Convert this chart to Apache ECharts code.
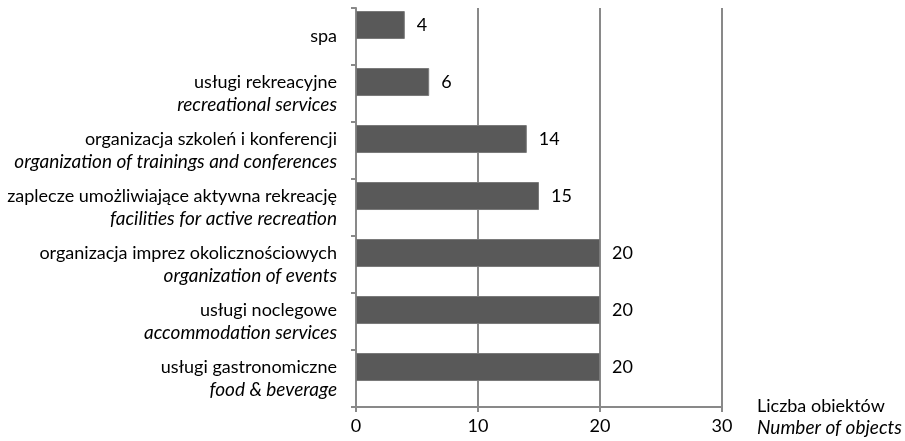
<!DOCTYPE html>
<html style="height: 100%">

<head>
  <meta charset="utf-8">
</head>

<body style="height: 100%; margin: 0; background: #fff">
  <div id="container" style="height: 100%"></div>
  <script type="text/javascript" src="https://cdn.jsdelivr.net/npm/echarts@6/dist/echarts.min.js"></script>
  <script type="text/javascript">
  var namesPl = ['spa', 'usługi rekreacyjne', 'organizacja szkoleń i konferencji',
    'zaplecze umożliwiające aktywna rekreację', 'organizacja imprez okolicznościowych',
    'usługi noclegowe', 'usługi gastronomiczne'];
  var namesEn = ['', 'recreational services', 'organization of trainings and conferences',
    'facilities for active recreation', 'organization of events',
    'accommodation services', 'food & beverage'];
  var counts = [4, 6, 14, 15, 20, 20, 20];
  var xTicks = [0, 10, 20, 30];

  var dom = document.getElementById('container');
  var myChart = echarts.init(dom);
  var font = 'Lato, "Open Sans", sans-serif';
  var grey = '#898989';

  var categories = namesPl.map(function (p, i) {
    return namesEn[i] ? '{a|' + p + '}\n{b|' + namesEn[i] + '}' : '{a|' + p + '}';
  });

  var option = {
    animation: false,
    textStyle: { fontFamily: font },
    grid: { left: 356, right: 183, top: 8, bottom: 34, containLabel: false, outerBoundsMode: 'none' },
    xAxis: {
      type: 'value',
      min: xTicks[0],
      max: xTicks[xTicks.length - 1],
      interval: 10,
      axisLine: { show: true, lineStyle: { color: grey, width: 2 } },
      axisTick: { show: true, length: 5, lineStyle: { color: grey, width: 2 } },
      splitLine: { show: true, lineStyle: { color: grey, width: 2 } },
      axisLabel: { color: '#000', fontSize: 18, fontFamily: font, margin: 10 },
      name: '{p|Liczba obiektów}\n{i|Number of objects}',
      nameLocation: 'end',
      nameGap: 35,
      nameTextStyle: {
        color: '#000', fontSize: 18, fontFamily: font, align: 'left',
        verticalAlign: 'middle', lineHeight: 21, padding: [20, 0, 0, 0],
        rich: {
          p: { fontSize: 18, fontFamily: font, lineHeight: 21, color: '#000' },
          i: { fontStyle: 'italic', fontSize: 19, fontFamily: font, lineHeight: 21, color: '#000' }
        }
      }
    },
    yAxis: {
      type: 'category',
      inverse: true,
      data: categories,
      axisLine: { show: true, lineStyle: { color: grey, width: 2 } },
      axisTick: { show: true, length: 5, lineStyle: { color: grey, width: 2 } },
      axisLabel: {
        margin: 19,
        align: 'right',
        rich: {
          a: { fontSize: 18, fontFamily: font, color: '#000', lineHeight: 23, align: 'right' },
          b: { fontSize: 19, fontFamily: font, color: '#000', lineHeight: 23, align: 'right', fontStyle: 'italic' }
        }
      }
    },
    series: [{
      type: 'bar',
      data: counts,
      barWidth: 28,
      barGap: '-18%',
      itemStyle: { color: '#595959', borderColor: '#7a7a7a', borderWidth: 1 },
      label: { show: true, position: 'right', distance: 12, color: '#000', fontSize: 18, fontFamily: font }
    }, {
      type: 'bar',
      data: counts.map(function () { return 0; }),
      barWidth: 28,
      itemStyle: { color: 'transparent' },
      silent: true
    }]
  };

  myChart.setOption(option);
  </script>
</body>

</html>
